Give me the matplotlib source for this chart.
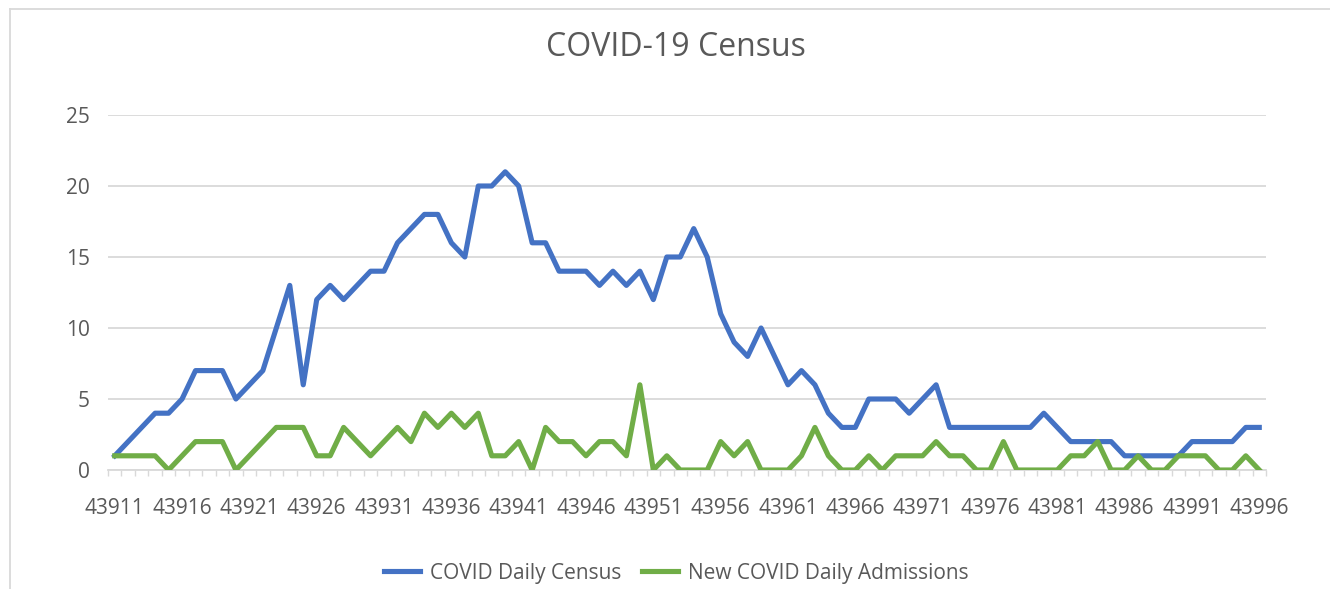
import matplotlib
matplotlib.use("Agg")
import matplotlib.pyplot as plt
from matplotlib.lines import Line2D

# Data
days = list(range(43911, 43997))
census = [1, 2, 3, 4, 4, 5, 7, 7, 7, 5, 6, 7, 10, 13, 6, 12, 13, 12, 13, 14,
          14, 16, 17, 18, 18, 16, 15, 20, 20, 21, 20, 16, 16, 14, 14, 14, 13, 14, 13, 14,
          12, 15, 15, 17, 15, 11, 9, 8, 10, 8, 6, 7, 6, 4, 3, 3, 5, 5, 5, 4,
          5, 6, 3, 3, 3, 3, 3, 3, 3, 4, 3, 2, 2, 2, 2, 1, 1, 1, 1, 1,
          2, 2, 2, 2, 3, 3]
admissions = [1, 1, 1, 1, 0, 1, 2, 2, 2, 0, 1, 2, 3, 3, 3, 1, 1, 3, 2, 1,
              2, 3, 2, 4, 3, 4, 3, 4, 1, 1, 2, 0, 3, 2, 2, 1, 2, 2, 1, 6,
              0, 1, 0, 0, 0, 2, 1, 2, 0, 0, 0, 1, 3, 1, 0, 0, 1, 0, 1, 1,
              1, 2, 1, 1, 0, 0, 2, 0, 0, 0, 0, 1, 1, 2, 0, 0, 1, 0, 0, 1,
              1, 1, 0, 0, 1, 0]
series_names = ["COVID Daily Census", "New COVID Daily Admissions"]

plt.rcParams['font.family'] = ['Open Sans', 'DejaVu Sans']
grey_text = "#595959"
grid_col = "#D9D9D9"

fig = plt.figure(figsize=(13.3, 5.89), dpi=100)
ax = fig.add_axes([108 / 1330, 1 - 470 / 589, (1266 - 108) / 1330, (470 - 115) / 589])

x = list(range(len(days)))
ax.plot(x, census, color="#4472C4", lw=3.7, solid_joinstyle="round", label=series_names[0], zorder=3)
ax.plot(x, admissions, color="#70AD47", lw=3.7, solid_joinstyle="round", label=series_names[1], zorder=3)

ax.set_xlim(-0.5, len(days) - 0.5)
ax.set_ylim(0, 25)
ax.set_yticks(range(0, 26, 5))
ax.set_xticks(x[::5])
ax.set_xticklabels([str(d) for d in days[::5]])
ax.set_xticks([i - 0.5 for i in range(len(days) + 1)], minor=True)

ax.grid(axis="y", color=grid_col, lw=1.3)
ax.set_axisbelow(True)
for s in ["top", "right", "left"]:
    ax.spines[s].set_visible(False)
ax.spines["bottom"].set_color(grid_col)
ax.spines["bottom"].set_linewidth(1.3)

ax.tick_params(axis="x", which="major", length=0, pad=20, labelsize=15, labelcolor=grey_text)
ax.tick_params(axis="x", which="minor", length=4.5, width=1, color=grid_col)
ax.tick_params(axis="y", length=0, pad=13, labelsize=15, labelcolor=grey_text)

# Title
fig.text(676 / 1330, 1 - 48 / 589, "COVID-19 Census", ha="center", va="center",
         fontsize=23, color=grey_text)

# Legend
fig.legend(loc="center", bbox_to_anchor=(676.5 / 1330, 1 - 573 / 589), ncol=2, frameon=False,
           fontsize=15, labelcolor=grey_text, handlelength=1.7, handletextpad=0.5,
           columnspacing=1.0)

# Chart frame (cropped)
fig.add_artist(Line2D([10 / 1330, 10 / 1330], [0, 1 - 9 / 589], color=grid_col, lw=1.3))
fig.add_artist(Line2D([10 / 1330, 1], [1 - 9 / 589, 1 - 9 / 589], color=grid_col, lw=1.3))

fig.savefig("out.png", dpi=100, facecolor="white")
